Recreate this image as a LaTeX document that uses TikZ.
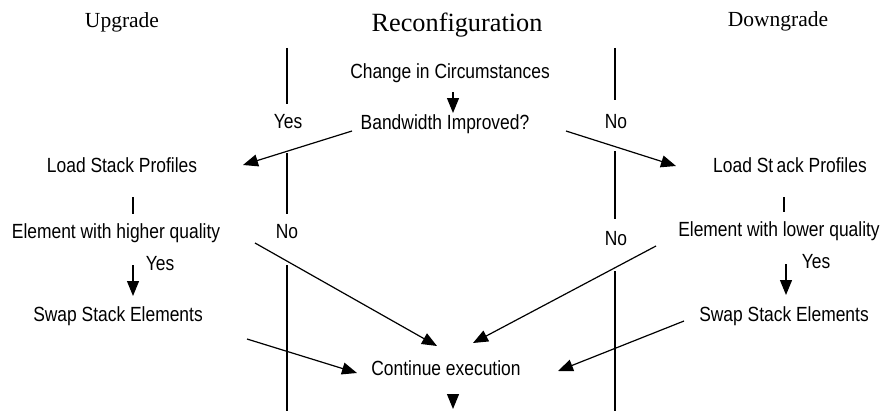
\documentclass[tikz,border=0pt]{standalone}
\usepackage{fontspec}
\usepackage{graphicx}
\setmainfont{Liberation Serif}
\setsansfont{Liberation Sans}
\usetikzlibrary{arrows.meta}
% narrow sans labels
\newcommand\narrowtxt[1]{\scalebox{0.85}[1]{#1}}
\tikzset{
  lbl/.style={inner sep=0pt, font=\fontsize{20.5}{24}\selectfont\sffamily},
  head/.style={inner sep=0pt, font=\fontsize{21.5}{24}\selectfont\rmfamily},
  title/.style={inner sep=0pt, font=\fontsize{26.3}{30}\selectfont\rmfamily},
  conn/.style={line width=1.2pt},
  arr/.style={conn, -{Triangle[length=15pt,width=12pt]}},
  divider/.style={line width=1.2pt}
}
\begin{document}
\begin{tikzpicture}[x=1pt,y=-1pt]
\useasboundingbox (0,0) rectangle (882,412);

% column headings
\node[head]  (up)   at (122,22) {Upgrade};
\node[title] (rec)  at (457,25) {Reconfiguration};
\node[head]  (down) at (778,21) {Downgrade};

% column dividers
\draw[divider] (287,48) -- (287,104);
\draw[divider] (287,153) -- (287,214);
\draw[divider] (287,265) -- (287,411);
\draw[divider] (615,48) -- (615,100);
\draw[divider] (615,151) -- (615,219);
\draw[divider] (615,271) -- (615,411);

% decision in the middle
\node[lbl] (cic) at (450,73) {\narrowtxt{Change in Circumstances}};
\node[lbl] (bw)  at (445,124) {\narrowtxt{Bandwidth Improved?}};
\node[lbl] (yes1) at (288,122) {\narrowtxt{Yes}};
\node[lbl] (no1)  at (616,122) {\narrowtxt{No}};

% upgrade branch
\node[lbl] (lsl) at (122,165) {\narrowtxt{Load Stack Profiles}};
\node[lbl] (ehq) at (116,233) {\narrowtxt{Element with higher quality}};
\node[lbl] (no2) at (287,232) {\narrowtxt{No}};
\node[lbl] (yes2) at (160,264) {\narrowtxt{Yes}};
\node[lbl] (swl) at (118,316) {\narrowtxt{Swap Stack Elements}};

% downgrade branch
\node[lbl] (lsr) at (790,165) {\narrowtxt{Load St\hspace{4pt}ack Profiles}};
\node[lbl] (elq) at (779,231) {\narrowtxt{Element with lower quality}};
\node[lbl] (no3) at (616,239) {\narrowtxt{No}};
\node[lbl] (yes3) at (816,262) {\narrowtxt{Yes}};
\node[lbl] (swr) at (784,316) {\narrowtxt{Swap Stack Elements}};

% common end
\node[lbl] (ce) at (446,368) {\narrowtxt{Continue execution}};
\coordinate (out) at (453,409);

% connectors
\draw[arr]  ([shift={(3,19)}]cic.center) -- ([shift={(8,-11)}]bw.center);
\draw[arr]  ([shift={(-93,7)}]bw.center) -- ([shift={(121,0)}]lsl.center);
\draw[arr]  ([shift={(121,7)}]bw.center) -- ([shift={(-114,1)}]lsr.center);

\draw[conn] ([shift={(11,32)}]lsl.center) -- ([shift={(17,-19)}]ehq.center);
\draw[conn] ([shift={(-6,32)}]lsr.center) -- ([shift={(5,-19)}]elq.center);

\draw[arr]  ([shift={(17,32)}]ehq.center) -- ([shift={(15,-20)}]swl.center);
\draw[arr]  ([shift={(7,33)}]elq.center) -- ([shift={(2,-21)}]swr.center);

\draw[arr]  ([shift={(139,10)}]ehq.center) -- ([shift={(-9,-22)}]ce.center);
\draw[arr]  ([shift={(-123,15)}]elq.center) -- ([shift={(27,-25)}]ce.center);
\draw[arr]  ([shift={(129,23)}]swl.center) -- ([shift={(-89,5)}]ce.center);
\draw[arr]  ([shift={(-100,5)}]swr.center) -- ([shift={(112,3)}]ce.center);

\draw[arr]  ([shift={(7,26)}]ce.center) -- (out);
\end{tikzpicture}
\end{document}
